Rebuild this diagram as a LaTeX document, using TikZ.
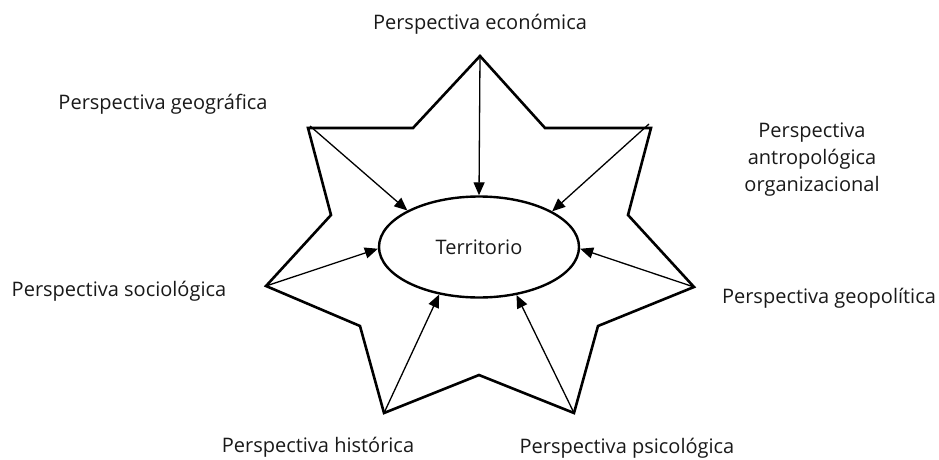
\documentclass[tikz,border=0pt]{standalone}
\usepackage{fontspec}
\setmainfont{Open Sans}
\usetikzlibrary{arrows.meta,shapes.geometric}
\begin{document}
\begin{tikzpicture}[x=1pt,y=-1pt,
  lbl/.style={font=\fontsize{20}{27}\selectfont, text=black!90, inner sep=0pt, align=center},
  star/.style={line width=2.6pt, line join=miter},
  arr/.style={line width=1.3pt, -{Triangle[length=13pt,width=11pt]}},
  terrbox/.style={ellipse, draw, line width=2.4pt, minimum width=200pt, minimum height=101pt, inner sep=0pt, text=black!90, font=\fontsize{20}{24}\selectfont}]
\useasboundingbox (0,0) rectangle (939,460);
% star vertices
\coordinate (pE) at (480,56);
\coordinate (iTR) at (545,128);
\coordinate (pA) at (651,128);
\coordinate (iR) at (628,215);
\coordinate (pGp) at (694,287);
\coordinate (iBR) at (598,326);
\coordinate (pPs) at (574,413);
\coordinate (iB) at (479,375);
\coordinate (pH) at (384,413);
\coordinate (iBL) at (360,326);
\coordinate (pS) at (266,286);
\coordinate (iL) at (331,215);
\coordinate (pG) at (308,128);
\coordinate (iTL) at (413,128);
\draw[star] (pE) -- (iTR) -- (pA) -- (iR) -- (pGp) -- (iBR) -- (pPs) -- (iB) -- (pH) -- (iBL) -- (pS) -- (iL) -- (pG) -- (iTL) -- cycle;
\node[terrbox] (terr) at (479,247) {Territorio};
% arrows
\draw[arr] (pE) -- (terr.90);
\draw[arr] ([xshift=2pt,yshift=2pt]pG) -- (terr.153);
\draw[arr] ([xshift=-2pt,yshift=4pt]pA) -- (terr.26);
\draw[arr] (pS) -- (terr.181);
\draw[arr] (pGp) -- (terr.-1);
\draw[arr] (pH) -- (terr.230);
\draw[arr] (pPs) -- (terr.308);
% labels
\node[lbl] (lE) at (480,24) {Perspectiva económica};
\node[lbl] (lG) at (163,104) {Perspectiva geográfica};
\node[lbl] (lA) at (812,160) {Perspectiva\\antropológica\\organizacional};
\node[lbl] (lS) at (119,291) {Perspectiva sociológica};
\node[lbl] (lGp) at (829,298) {Perspectiva geopolítica};
\node[lbl] (lH) at (318,447) {Perspectiva histórica};
\node[lbl] (lPs) at (627,448) {Perspectiva psicológica};
\end{tikzpicture}
\end{document}
